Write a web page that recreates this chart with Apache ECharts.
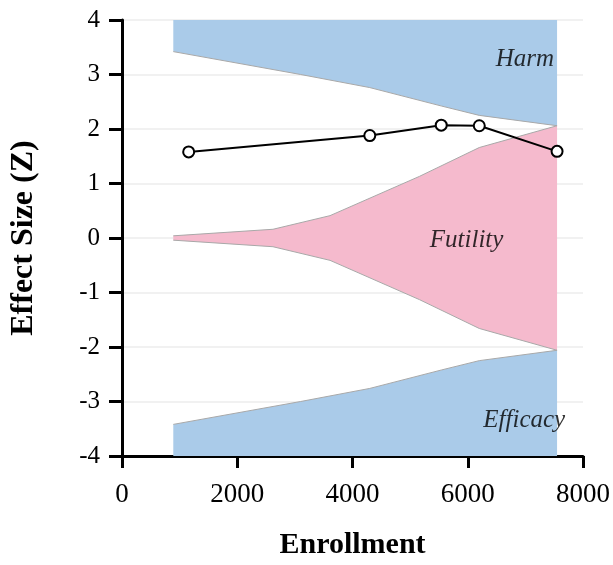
<!DOCTYPE html>
<html>
<head>
<meta charset="utf-8">
<script src="https://cdn.jsdelivr.net/npm/echarts@6/dist/echarts.min.js"></script>
<style>
  html, body { margin: 0; padding: 0; background: #fff; }
  #chart { width: 613px; height: 565px; }
</style>
</head>
<body>
<div id="chart"></div>
<script>
// 边界数据 (Enrollment, Z)
const boundX = [890, 3100, 4300, 5550, 6200, 7550];
const harmZ = [3.42, 3.0, 2.76, 2.42, 2.25, 2.06];
const efficacyZ = [-3.42, -3.0, -2.76, -2.42, -2.25, -2.06];

const futX = [890, 2620, 3610, 5160, 6200, 7550];
const futUpper = [0.04, 0.16, 0.41, 1.13, 1.66, 2.06];
const futLower = [-0.04, -0.16, -0.41, -1.13, -1.66, -2.06];

const lookX = [1157, 4300, 5540, 6200, 7550];
const lookZ = [1.58, 1.88, 2.07, 2.06, 1.59];

const regionNames = ['Harm', 'Futility', 'Efficacy'];
const regionX = [6990, 5980, 6980];
const regionZ = [3.27, -0.05, -3.34];

const xTicks = [0, 2000, 4000, 6000, 8000];
const yTicks = [-4, -3, -2, -1, 0, 1, 2, 3, 4];

const FONT = '"Liberation Serif", "Times New Roman", serif';
const BLUE = '#aacbe9';
const PINK = '#f5bacd';
const EDGE = '#a8a8a8';

function zip(xs, ys) {
  return xs.map((x, i) => [x, ys[i]]);
}

function band(name, xs, ys, color, origin) {
  return {
    name: name,
    type: 'line',
    data: zip(xs, ys),
    symbol: 'none',
    silent: true,
    lineStyle: { color: EDGE, width: 1 },
    areaStyle: { color: color, opacity: 1, origin: origin },
    z: 1
  };
}

const chart = echarts.init(document.getElementById('chart'));
chart.setOption({
  animation: false,
  grid: { left: 121, right: 29, top: 20, bottom: 107 },
  xAxis: {
    type: 'value',
    min: xTicks[0],
    max: xTicks[xTicks.length - 1],
    interval: 2000,
    name: 'Enrollment',
    nameLocation: 'middle',
    nameGap: 74,
    nameTextStyle: { fontFamily: FONT, fontSize: 30, fontWeight: 'bold', color: '#000' },
    axisLine: { onZero: false, lineStyle: { color: '#000', width: 3 } },
    axisTick: { length: 12, lineStyle: { color: '#000', width: 3 } },
    axisLabel: { margin: 25, fontFamily: FONT, fontSize: 27, color: '#000', formatter: v => String(v) },
    splitLine: { show: false }
  },
  yAxis: {
    type: 'value',
    min: yTicks[0],
    max: yTicks[yTicks.length - 1],
    interval: 1,
    name: 'Effect Size (Z)',
    nameLocation: 'middle',
    nameGap: 82,
    nameTextStyle: { fontFamily: FONT, fontSize: 32, fontWeight: 'bold', color: '#000' },
    axisLine: { onZero: false, lineStyle: { color: '#000', width: 3 } },
    axisTick: { length: 13, lineStyle: { color: '#000', width: 3 } },
    axisLabel: { margin: 22, fontFamily: FONT, fontSize: 25, color: '#000' },
    splitLine: { lineStyle: { color: '#ececec', width: 1.5 } }
  },
  series: [
    band('harm', boundX, harmZ, BLUE, 'end'),
    band('efficacy', boundX, efficacyZ, BLUE, 'start'),
    band('futUp', futX, futUpper, PINK, 0),
    band('futLow', futX, futLower, PINK, 0),
    {
      name: 'observed',
      type: 'line',
      data: zip(lookX, lookZ),
      symbol: 'circle',
      symbolSize: 11,
      itemStyle: { color: '#fff', borderColor: '#000', borderWidth: 2 },
      lineStyle: { color: '#000', width: 2 },
      z: 5
    },
    {
      name: 'regions',
      type: 'scatter',
      data: regionNames.map((n, i) => [regionX[i], regionZ[i], n]),
      symbolSize: 0,
      silent: true,
      label: {
        show: true,
        position: 'inside',
        formatter: p => p.data[2],
        fontFamily: FONT,
        fontSize: 25,
        fontStyle: 'italic',
        color: '#000'
      },
      z: 6
    }
  ]
});
</script>
</body>
</html>
